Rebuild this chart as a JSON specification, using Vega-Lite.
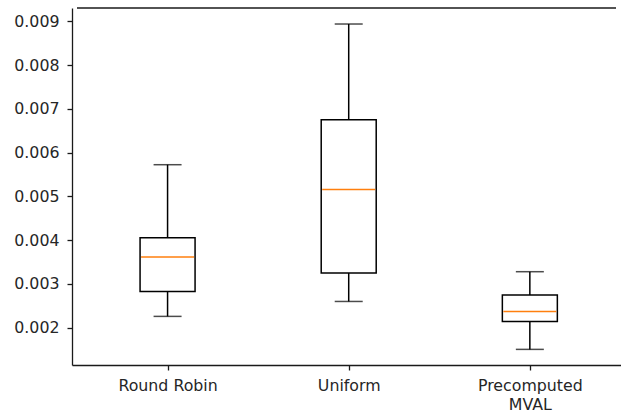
{
  "$schema": "https://vega.github.io/schema/vega-lite/v6.json",
  "autosize": {"type": "none"},
  "padding": {"left": 72, "top": 8, "right": 0, "bottom": 48},
  "width": 549,
  "height": 357,
  "config": {
    "view": {"stroke": null},
    "font": "DejaVu Sans",
    "axis": {"grid": false, "domainColor": "#1a1a1a", "domainWidth": 1.3, "tickColor": "#1a1a1a", "tickWidth": 1.3, "tickSize": 5, "labelColor": "#262626", "labelFont": "DejaVu Sans", "labelFontSize": 15.8, "title": null}
  },
  "data": {
    "values": [
      {"pos": 1, "name": "Round Robin", "min": 0.002259, "q1": 0.00283, "median": 0.003616, "q3": 0.004057, "max": 0.005725},
      {"pos": 2, "name": "Uniform", "min": 0.0026, "q1": 0.00325, "median": 0.005161, "q3": 0.006754, "max": 0.00894},
      {"pos": 3, "name": "Precomputed MVAL", "min": 0.001505, "q1": 0.002144, "median": 0.002373, "q3": 0.002747, "max": 0.00328}
    ]
  },
  "encoding": {
    "x": {
      "field": "pos", "type": "quantitative",
      "scale": {"domain": [0.5, 3.4756], "nice": false, "zero": false},
      "axis": {"values": [1, 2, 3], "labelPadding": 8, "labelLineHeight": 19, "labelFlush": false,
        "labelExpr": "datum.value == 1 ? 'Round Robin' : datum.value == 2 ? 'Uniform' : ['Precomputed', 'MVAL']"}
    }
  },
  "layer": [
    {
      "mark": {"type": "rule", "color": "black", "strokeWidth": 1.5},
      "encoding": {
        "y": {"field": "min", "type": "quantitative",
          "scale": {"domain": [0.001148, 0.009306], "nice": false, "zero": false},
          "axis": {"values": [0.002, 0.003, 0.004, 0.005, 0.006, 0.007, 0.008, 0.009], "format": ".3f", "labelPadding": 8}},
        "y2": {"field": "q1"}
      }
    },
    {
      "mark": {"type": "rule", "color": "black", "strokeWidth": 1.5},
      "encoding": {
        "y": {"field": "q3", "type": "quantitative"},
        "y2": {"field": "max"}
      }
    },
    {
      "mark": {"type": "bar", "size": 55, "fill": "white", "stroke": "black", "strokeWidth": 1.5},
      "encoding": {
        "y": {"field": "q1", "type": "quantitative"},
        "y2": {"field": "q3"}
      }
    },
    {
      "mark": {"type": "tick", "orient": "horizontal", "size": 28, "thickness": 1.5, "color": "black"},
      "encoding": {"y": {"field": "min", "type": "quantitative"}}
    },
    {
      "mark": {"type": "tick", "orient": "horizontal", "size": 28, "thickness": 1.5, "color": "black"},
      "encoding": {"y": {"field": "max", "type": "quantitative"}}
    },
    {
      "mark": {"type": "tick", "orient": "horizontal", "size": 53, "thickness": 1.5, "color": "#ff7f0e", "opacity": 1},
      "encoding": {"y": {"field": "median", "type": "quantitative"}}
    },
    {
      "mark": {"type": "rule", "color": "#1a1a1a", "strokeWidth": 1.3},
      "data": {"values": [{"a": 0.5, "b": 3.4756, "top": 0.009306}]},
      "encoding": {
        "x": {"field": "a", "type": "quantitative"},
        "x2": {"field": "b"},
        "y": {"field": "top", "type": "quantitative"}
      }
    }
  ]
}
